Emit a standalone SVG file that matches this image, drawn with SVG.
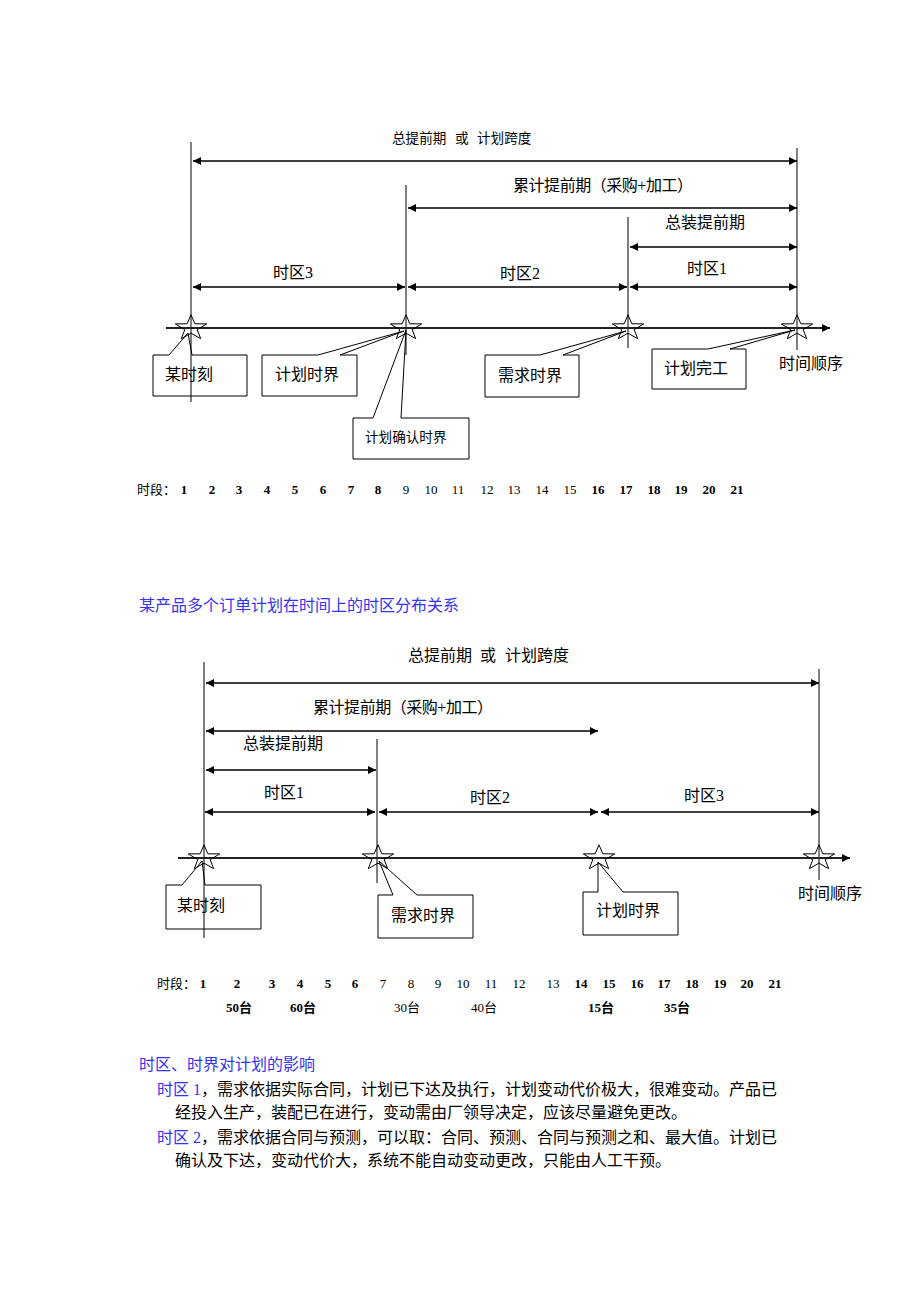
<svg xmlns="http://www.w3.org/2000/svg" width="920" height="1302" viewBox="0 0 920 1302">
<style>
text{font-family:"Liberation Serif","Noto Sans CJK SC",serif;fill:#000}
.f16{font-size:16px}
.f14{font-size:13.6px}
.f13{font-size:13px}
.b{font-weight:bold}
.blue{fill:#3535f0}
.v{stroke:#000;stroke-width:1;fill:none}
.a{stroke:#000;stroke-width:1.6;fill:none;marker-start:url(#ah);marker-end:url(#ah)}
.ax{stroke:#222;stroke-width:2;fill:none;marker-end:url(#ah)}
.box{fill:#fff;stroke:#000;stroke-width:1}
.star{fill:none;stroke:#000;stroke-width:1}
.n text{text-anchor:middle}
</style>
<defs>
<marker id="ah" viewBox="0 0 10 10" refX="10" refY="5" markerUnits="userSpaceOnUse" markerWidth="9" markerHeight="8" orient="auto-start-reverse">
<path d="M0,0 L10,5 L0,10 z" fill="#000"/>
</marker>
<polygon id="st" points="0,-13.2 3.82,-4.21 15.69,-4.08 6.18,1.61 9.7,10.68 0,5.2 -9.7,10.68 -6.18,1.61 -15.69,-4.08 -3.82,-4.21"/>
</defs>
<rect width="920" height="1302" fill="#fff"/>

<!-- ===== Top diagram ===== -->
<g id="top-labels">
<text class="f14" y="143"><tspan x="392">总提前期</tspan><tspan x="455">或</tspan><tspan x="477">计划跨度</tspan></text>
<text class="f16" x="513" y="191" textLength="180">累计提前期（采购+加工）</text>
<text class="f16" x="665" y="228">总装提前期</text>
<text class="f16" x="273" y="278">时区3</text>
<text class="f16" x="500" y="279">时区2</text>
<text class="f16" x="687" y="274">时区1</text>
<text class="f16" x="779" y="369">时间顺序</text>
</g>
<g id="top-node-moushike">
<path class="box" d="M153,355 H169 L188,333 L192,355 H247 V396 H153 Z"/>
<text class="f16" x="165" y="380">某时刻</text>
</g>
<g id="top-node-jihuashijie">
<path class="box" d="M262,355 H318 L404,331 L340,355 H357 V396 H262 Z"/>
<text class="f16" x="275" y="380">计划时界</text>
</g>
<g id="top-node-queren">
<path class="box" d="M353,418 H373 L406,330 L401,418 H469 V459 H353 Z"/>
<text class="f14" x="365" y="442">计划确认时界</text>
</g>
<g id="top-node-xuqiu">
<path class="box" d="M485,355 H540 L626,331 L563,355 H579 V397 H485 Z"/>
<text class="f16" x="498" y="381">需求时界</text>
</g>
<g id="top-node-wangong">
<path class="box" d="M652,349 H708 L795,330 L730,349 H746 V389 H652 Z"/>
<text class="f16" x="664" y="374">计划完工</text>
</g>
<g id="top-connectors">
<line class="v" x1="191" y1="142" x2="191" y2="402"/>
<line class="v" x1="406" y1="185" x2="406" y2="355"/>
<line class="v" x1="628" y1="217" x2="628" y2="348"/>
<line class="v" x1="797" y1="148" x2="797" y2="350"/>
<line class="a" x1="193" y1="161" x2="797" y2="161"/>
<line class="a" x1="408" y1="208" x2="797" y2="208"/>
<line class="a" x1="630" y1="247" x2="797" y2="247"/>
<line class="a" x1="193" y1="287" x2="405" y2="287"/>
<line class="a" x1="408" y1="287" x2="627" y2="287"/>
<line class="a" x1="630" y1="287" x2="797" y2="287"/>
<line class="ax" x1="166" y1="328" x2="830" y2="328"/>
<use href="#st" class="star" x="191" y="328"/>
<use href="#st" class="star" x="406" y="328"/>
<use href="#st" class="star" x="628" y="328"/>
<use href="#st" class="star" x="797" y="328"/>
</g>
<g id="top-periods" class="f13">
<text x="137" y="494" class="f13">时段：</text>
<g class="n f13 b">
<text x="184" y="494">1</text><text x="212" y="494">2</text><text x="239" y="494">3</text><text x="267" y="494">4</text><text x="295" y="494">5</text><text x="323" y="494">6</text><text x="351" y="494">7</text><text x="378" y="494">8</text>
<text x="598" y="494">16</text><text x="626" y="494">17</text><text x="654" y="494">18</text><text x="681" y="494">19</text><text x="709" y="494">20</text><text x="737" y="494">21</text>
</g>
<g class="n f13">
<text x="406" y="494">9</text><text x="431" y="494">10</text><text x="458" y="494">11</text><text x="487" y="494">12</text><text x="514" y="494">13</text><text x="542" y="494">14</text><text x="570" y="494">15</text>
</g>
</g>

<text class="f16 blue" x="139" y="611">某产品多个订单计划在时间上的时区分布关系</text>

<!-- ===== Bottom diagram ===== -->
<g id="bottom-labels">
<text class="f16" y="661"><tspan x="408">总提前期</tspan><tspan x="480">或</tspan><tspan x="505">计划跨度</tspan></text>
<text class="f16" x="313" y="713" textLength="180">累计提前期（采购+加工）</text>
<text class="f16" x="243" y="749">总装提前期</text>
<text class="f16" x="264" y="798">时区1</text>
<text class="f16" x="470" y="803">时区2</text>
<text class="f16" x="684" y="801">时区3</text>
<text class="f16" x="798" y="899">时间顺序</text>
</g>
<g id="bottom-node-moushike">
<path class="box" d="M166,885 H182 L202,861 L205,885 H261 V929 H166 Z"/>
<text class="f16" x="177" y="911">某时刻</text>
</g>
<g id="bottom-node-xuqiu">
<path class="box" d="M378,895 H393 L379,861 L417,895 H473 V938 H378 Z"/>
<text class="f16" x="391" y="921">需求时界</text>
</g>
<g id="bottom-node-jihuashijie">
<path class="box" d="M583,892 H598 V862 L623,892 H678 V935 H583 Z"/>
<text class="f16" x="596" y="916">计划时界</text>
</g>
<g id="bottom-connectors">
<line class="v" x1="204" y1="662" x2="204" y2="938"/>
<line class="v" x1="377" y1="739" x2="377" y2="883"/>
<line class="v" x1="819" y1="669" x2="819" y2="880"/>
<line class="a" x1="206" y1="683" x2="819" y2="683"/>
<line class="a" x1="206" y1="731" x2="598" y2="731"/>
<line class="a" x1="206" y1="770" x2="376" y2="770"/>
<line class="a" x1="205" y1="812" x2="375" y2="812"/>
<line class="a" x1="379" y1="812" x2="598" y2="812"/>
<line class="a" x1="601" y1="812" x2="819" y2="812"/>
<line class="ax" x1="178" y1="858" x2="850" y2="858"/>
<use href="#st" class="star" x="204" y="858"/>
<use href="#st" class="star" x="378" y="858"/>
<use href="#st" class="star" x="599" y="858"/>
<use href="#st" class="star" x="819" y="858"/>
</g>
<g id="bottom-periods">
<text x="157" y="988" class="f13">时段：</text>
<g class="n f13 b">
<text x="203" y="988">1</text><text x="237" y="988">2</text><text x="272" y="988">3</text><text x="300" y="988">4</text><text x="328" y="988">5</text><text x="355" y="988">6</text>
<text x="581" y="988">14</text><text x="609" y="988">15</text><text x="637" y="988">16</text><text x="664" y="988">17</text><text x="692" y="988">18</text><text x="720" y="988">19</text><text x="747" y="988">20</text><text x="775" y="988">21</text>
<text x="239" y="1012">50台</text><text x="303" y="1012">60台</text><text x="601" y="1012">15台</text><text x="677" y="1012">35台</text>
</g>
<g class="n f13">
<text x="383" y="988">7</text><text x="411" y="988">8</text><text x="438" y="988">9</text><text x="463" y="988">10</text><text x="491" y="988">11</text><text x="519" y="988">12</text><text x="553" y="988">13</text>
<text x="407" y="1012">30台</text><text x="484" y="1012">40台</text>
</g>
</g>

<g id="notes">
<text class="f16 blue" x="139" y="1070">时区、时界对计划的影响</text>
<text class="f16" x="157" y="1095"><tspan class="blue">时区 1</tspan>，需求依据实际合同，计划已下达及执行，计划变动代价极大，很难变动。产品已</text>
<text class="f16" x="175" y="1118">经投入生产，装配已在进行，变动需由厂领导决定，应该尽量避免更改。</text>
<text class="f16" x="157" y="1143"><tspan class="blue">时区 2</tspan>，需求依据合同与预测，可以取：合同、预测、合同与预测之和、最大值。计划已</text>
<text class="f16" x="175" y="1166">确认及下达，变动代价大，系统不能自动变动更改，只能由人工干预。</text>
</g>
</svg>
